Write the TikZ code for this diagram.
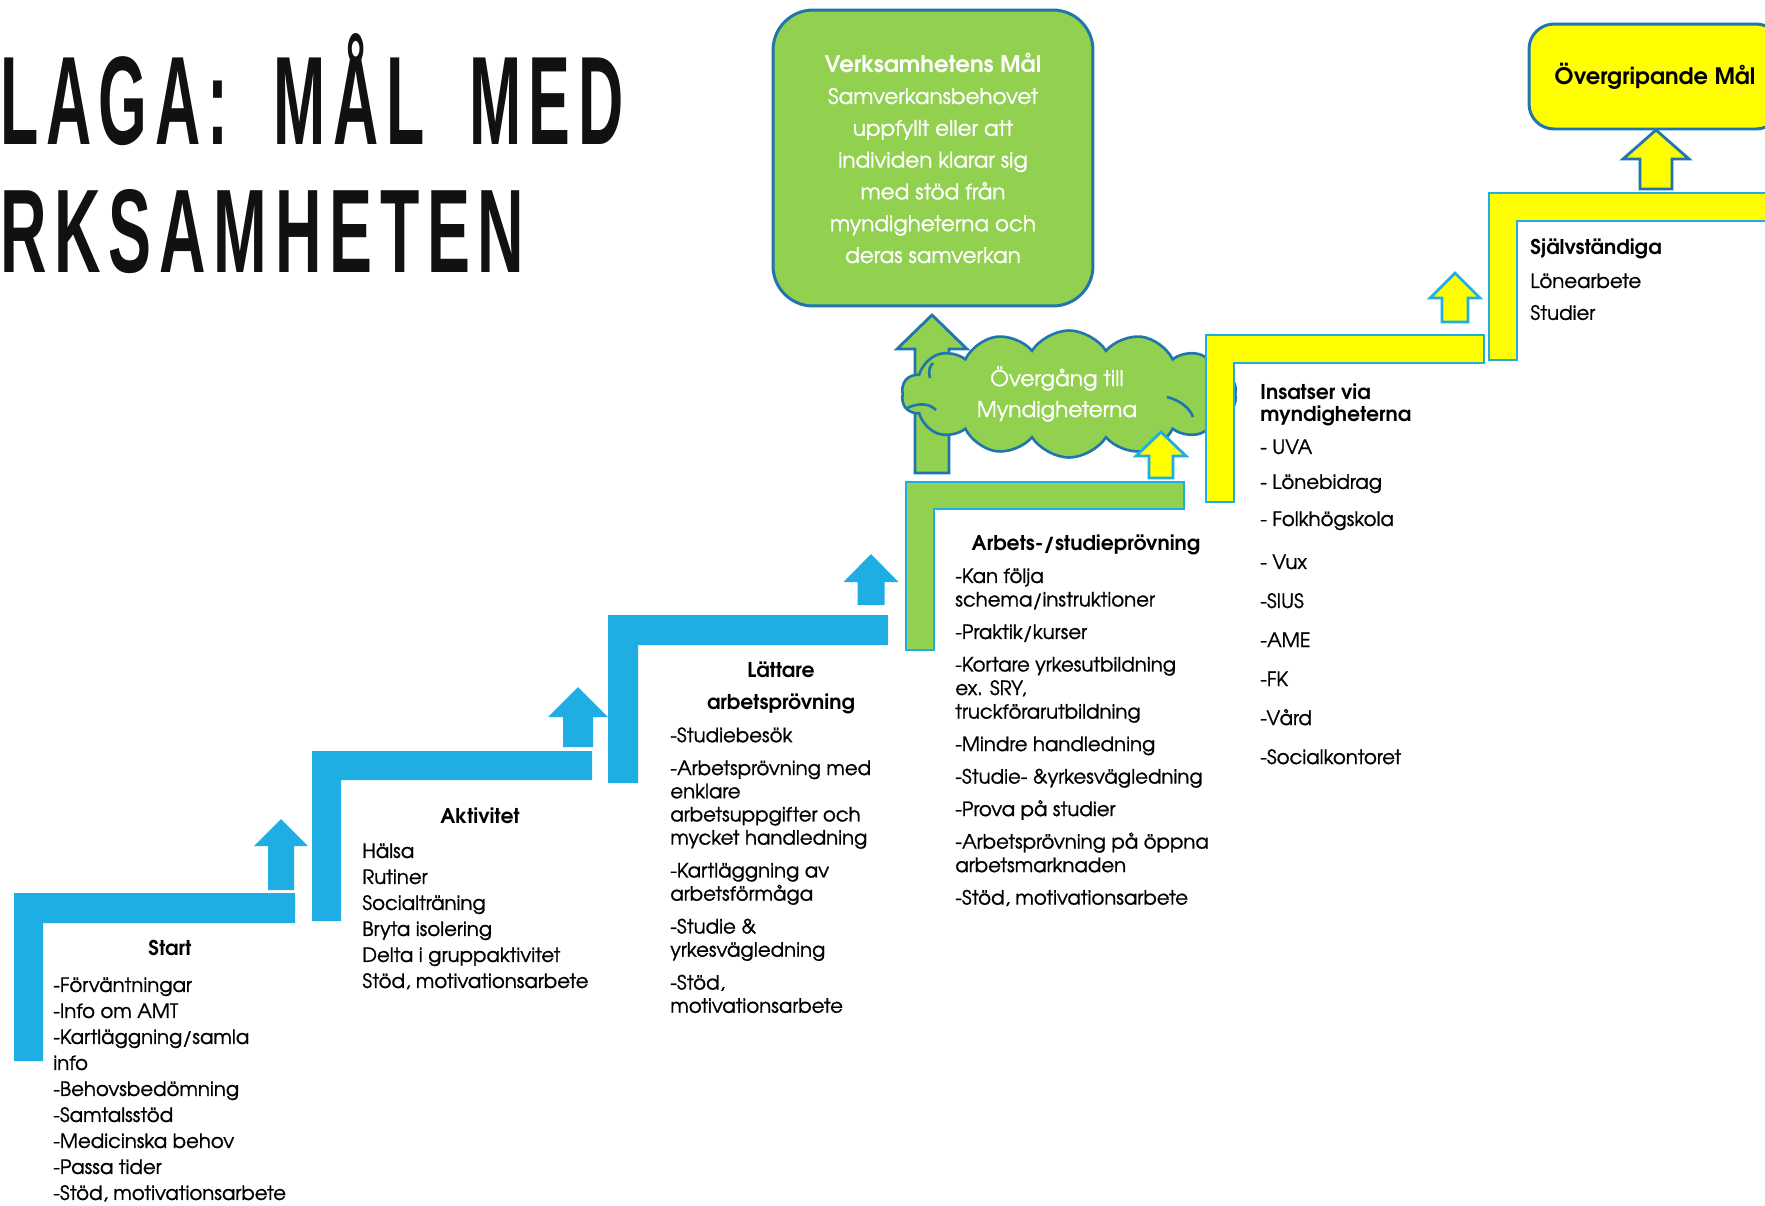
\documentclass[tikz,border=0pt]{standalone}
\usepackage{fontspec}
\usepackage{graphicx}
\usepackage{tikz}
\usetikzlibrary{shapes.symbols}
\setmainfont{texgyreadventor}[Extension=.otf, UprightFont=*-regular, BoldFont=*-bold, ItalicFont=*-italic, BoldItalicFont=*-bolditalic, UprightFeatures={FakeBold=1}]
\newfontfamily\titlefont{Liberation Sans}[LetterSpace=12, WordSpace=1.8]
\definecolor{stepblue}{HTML}{1FAEE3}
\definecolor{leaf}{HTML}{92D050}
\definecolor{sun}{HTML}{FFFF00}
\definecolor{edge}{HTML}{2076AC}
\definecolor{ink}{HTML}{111111}
\newcommand{\TxtSize}[2]{\fontsize{#1}{#2}\selectfont}
\tikzset{
  BlueStep/.style={fill=stepblue, draw=none},
  GreenStep/.style={fill=leaf, draw=stepblue, line width=1.6pt},
  YellowStep/.style={fill=sun, draw=stepblue, line width=1.6pt},
  BlueArrow/.style={fill=stepblue, draw=none},
  DarkArrow/.style={draw=edge, line width=1.6pt},
  LightArrow/.style={fill=sun, draw=stepblue, line width=1.6pt},
  GoalBox/.style={draw=edge, line width=1.7pt, rounded corners=0.8cm,
    align=center, inner sep=0pt},
  ListText/.style={anchor=north west, align=left, inner sep=0pt, text=black,
    font=\TxtSize{11.2}{14.8}},
  HeadText/.style={anchor=north, align=center, inner sep=0pt, text=black,
    font=\bfseries\TxtSize{11.6}{14.8}}
}
\newcommand{\StairStep}[7][]{%
  % #1 = style, #2 = left x, #3 = top y, #4 = right x
  % #5 = tread thickness, #6 = riser width, #7 = riser bottom y
  \draw[#1] (#2,#3) -- (#4,#3) -- (#4,{#3+#5}) -- ({#2+#6},{#3+#5})
    -- ({#2+#6},#7) -- (#2,#7) -- cycle;
}
\newcommand{\UpArrow}[7][]{%
  % #1 = style, #2 = tip x, #3 = tip y, #4 = head base y
  % #5 = head half width, #6 = shaft half width, #7 = shaft bottom y
  \draw[#1] (#2,#3) -- ({#2+#5},#4) -- ({#2+#6},#4) -- ({#2+#6},#7)
    -- ({#2-#6},#7) -- ({#2-#6},#4) -- ({#2-#5},#4) -- cycle;
}

\begin{document}
\begin{tikzpicture}[x=0.02cm, y=-0.02cm, line join=miter]
  \useasboundingbox (0,0) rectangle (1765,1205);

  % title, cut at the left edge
  \node[anchor=base west, inner sep=0pt, text=ink] (title1) at (0,144)
    {\resizebox{12.46cm}{2.22cm}{\titlefont\bfseries LAGA: MÅL MED}};
  \node[anchor=base west, inner sep=0pt, text=ink] (title2) at (0,272)
    {\resizebox{10.48cm}{1.66cm}{\titlefont\bfseries RKSAMHETEN}};

  % goal boxes
  \node[GoalBox, fill=leaf, minimum width=6.4cm, minimum height=5.92cm,
    text=white, font=\TxtSize{12.2}{18.1}] (goalbox) at (933,158)
    {{\TxtSize{13}{18.1}\bfseries Verksamhetens Mål}\\Samverkansbehovet\\uppfyllt eller att\\individen klarar sig\\med stöd från\\myndigheterna och\\deras samverkan};
  \node[GoalBox, fill=sun, minimum width=5.04cm, minimum height=2.1cm,
    rounded corners=0.5cm, font=\bfseries\TxtSize{12.9}{14}] (topgoal) at (1655,76.5)
    {Övergripande Mål};

  % blue stairs
  \StairStep[BlueStep]{14}{893}{295}{30}{29}{1061}
  \UpArrow[BlueArrow]{281}{819}{846}{27}{13}{890}
  \StairStep[BlueStep]{312}{751}{592}{29}{29}{921}
  \UpArrow[BlueArrow]{578}{687}{717}{30}{15}{747}
  \StairStep[BlueStep]{608}{615}{888}{30}{30}{783}
  \UpArrow[BlueArrow]{871}{554}{582}{27.5}{13.5}{605}

  % green step and the cloud
  \UpArrow[DarkArrow, fill=leaf]{932}{315}{349}{35}{17}{473}
  \node[cloud, cloud puffs=14, cloud puff arc=115, aspect=2.9, draw=edge,
    line width=1.5pt, fill=leaf, minimum width=6.7cm, minimum height=2.0cm,
    text=white, align=center, font=\TxtSize{12.3}{17.6}] (cloud) at (1069,394)
    {Övergång till\hspace*{0.48cm}\\Myndigheterna\hspace*{0.48cm}};
  \draw[edge, line width=1.5pt] (907,408) .. controls (920,402) and (930,404) .. (936,410);
  \draw[edge, line width=1.5pt] (1167,397) .. controls (1182,401) and (1190,409) .. (1193,417);
  \draw[edge, line width=1.5pt] (930,378) .. controls (928,370) and (930,366) .. (933,363);
  \StairStep[GreenStep]{906}{482}{1184}{27}{28}{650}
  \UpArrow[LightArrow]{1161}{432}{456}{25}{12}{478}

  % yellow stairs
  \StairStep[YellowStep]{1206}{335}{1484}{28}{28}{502}
  \UpArrow[LightArrow]{1455}{273}{298}{25}{13}{322}
  \StairStep[YellowStep]{1489}{193}{1800}{28}{28}{360}
  \UpArrow[DarkArrow, fill=sun]{1656}{130}{159}{33}{16}{189}

  % step texts
  \node[HeadText] (starthead) at (170,940) {Start};
  \node[ListText] (startlist) at (53,977)
    {-Förväntningar\\-Info om AMT\\-Kartläggning/samla\\info\\-Behovsbedömning\\-Samtalsstöd\\-Medicinska behov\\-Passa tider\\-Stöd, motivationsarbete};

  \node[HeadText] (aktivhead) at (480,807) {Aktivitet};
  \node[ListText] (aktivlist) at (362,843)
    {Hälsa\\Rutiner\\Socialträning\\Bryta isolering\\Delta i gruppaktivitet\\Stöd, motivationsarbete};

  \node[HeadText, font=\bfseries\TxtSize{11.6}{18.7}] (latthead) at (781,661)
    {Lättare\\arbetsprövning};
  \node[ListText, font=\TxtSize{11.2}{13.2}] (lattlist) at (670,727)
    {-Studiebesök\\[5.5pt]-Arbetsprövning med\\enklare\\arbetsuppgifter och\\mycket handledning\\[5.5pt]-Kartläggning av\\arbetsförmåga\\[5.5pt]-Studie \&\\yrkesvägledning\\[5.5pt]-Stöd,\\motivationsarbete};

  \node[HeadText] (arbhead) at (1086,535) {Arbets-/studieprövning};
  \node[ListText, font=\TxtSize{11.2}{13.4}] (arblist) at (955,568)
    {-Kan följa\\schema/instruktioner\\[5.1pt]-Praktik/kurser\\[5.1pt]-Kortare yrkesutbildning\\ex. SRY,\\truckförarutbildning\\[5.1pt]-Mindre handledning\\[5.1pt]-Studie- \&yrkesvägledning\\[5.1pt]-Prova på studier\\[5.1pt]-Arbetsprövning på öppna\\arbetsmarknaden\\[5.1pt]-Stöd, motivationsarbete};

  \node[ListText, font=\bfseries\TxtSize{11.6}{12.5}] (insatshead) at (1260,384)
    {Insatser via\\myndigheterna};
  \node[ListText, font=\TxtSize{11.2}{22.2}] (insatslist) at (1260,439)
    {- UVA\\[-2.3pt]- Lönebidrag\\[-1.1pt]- Folkhögskola\\[2.3pt]- Vux\\-SIUS\\-AME\\-FK\\-Vård\\-Socialkontoret};

  \node[ListText, font=\bfseries\TxtSize{11.6}{18.2}] (sjalvhead) at (1530,239)
    {Självständiga};
  \node[ListText, font=\TxtSize{11.2}{18.2}] (sjalvlist) at (1530,273)
    {Lönearbete\\Studier};
\end{tikzpicture}
\end{document}
